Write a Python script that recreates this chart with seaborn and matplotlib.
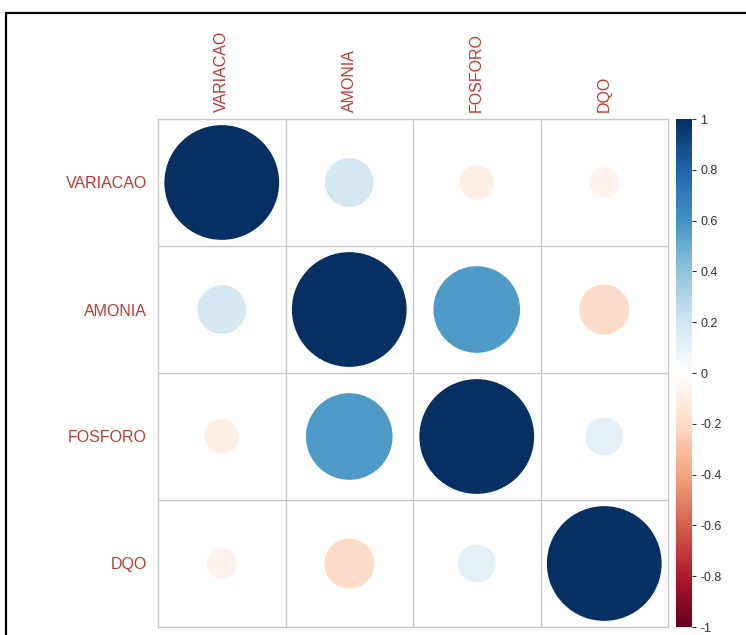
import numpy as np
import pandas as pd
import matplotlib
matplotlib.use("Agg")
import matplotlib.pyplot as plt
from matplotlib.colors import LinearSegmentedColormap, Normalize
from matplotlib.lines import Line2D
import seaborn as sns

variables = ["VARIACAO", "AMONIA", "FOSFORO", "DQO"]
row_variacao = [1.00, 0.18, -0.09, -0.07]
row_amonia = [0.18, 1.00, 0.57, -0.19]
row_fosforo = [-0.09, 0.57, 1.00, 0.11]
row_dqo = [-0.07, -0.19, 0.11, 1.00]
cbar_ticks = [-1, -0.8, -0.6, -0.4, -0.2, 0, 0.2, 0.4, 0.6, 0.8, 1]

corr = np.array([row_variacao, row_amonia, row_fosforo, row_dqo])
n = len(variables)

records = []
for i in range(n):
    for j in range(n):
        records.append({"row": i, "col": j, "r": corr[i, j]})
df = pd.DataFrame(records)

col2 = ["#67001F", "#B2182B", "#D6604D", "#F4A582", "#FDDBC7", "#FFFFFF",
        "#D1E5F0", "#92C5DE", "#4393C3", "#2166AC", "#053061"]
cmap = LinearSegmentedColormap.from_list("corrplot", col2, N=256)
norm = Normalize(-1, 1)

sns.set_theme(style="white")
plt.rcParams["font.family"] = ["Liberation Sans", "DejaVu Sans"]

W, H, DPI = 746, 635, 100
fig = plt.figure(figsize=(W / DPI, H / DPI), dpi=DPI)
fig.patch.set_facecolor("white")

ax_l, ax_r, ax_t, ax_b = 158, 668, 119, 627
ax = fig.add_axes([ax_l / W, 1 - ax_b / H, (ax_r - ax_l) / W, (ax_b - ax_t) / H])
cax = fig.add_axes([676 / W, 1 - ax_b / H, 16 / W, (ax_b - ax_t) / H])

cell_px = (ax_r - ax_l) / n
diam_pt = 0.9 * cell_px * np.sqrt(np.abs(df["r"].values)) * 72.0 / DPI
sizes = diam_pt ** 2

sns.scatterplot(data=df, x="col", y="row", hue="r", palette=cmap, hue_norm=norm,
                s=sizes, linewidth=0, legend=False, ax=ax, zorder=3)

ax.set_xlim(-0.5, n - 0.5)
ax.set_ylim(n - 0.5, -0.5)
grid_col = "#C8C8C8"
for k in range(1, n):
    ax.axvline(k - 0.5, color=grid_col, lw=1.0, zorder=1)
    ax.axhline(k - 0.5, color=grid_col, lw=1.0, zorder=1)
for s in ax.spines.values():
    s.set_visible(True)
    s.set_color(grid_col)
    s.set_linewidth(1.0)

lab_col = "#C23A33"
ax.set_xticks(range(n))
ax.set_xticklabels(variables, rotation=90, color=lab_col, fontsize=11.5)
ax.set_yticks(range(n))
ax.set_yticklabels(variables, color=lab_col, fontsize=11.5)
ax.xaxis.tick_top()
ax.tick_params(axis="x", length=0, pad=5, top=True, bottom=False,
               labeltop=True, labelbottom=False)
ax.tick_params(axis="y", length=0, pad=8)
ax.set_xlabel("")
ax.set_ylabel("")

sm = plt.cm.ScalarMappable(norm=norm, cmap=cmap)
cb = fig.colorbar(sm, cax=cax, ticks=cbar_ticks)
cb.outline.set_visible(False)
cb.ax.set_yticklabels([("%g" % t) for t in cbar_ticks])
cb.ax.tick_params(length=3, width=0.8, color="#333333", labelsize=9,
                  labelcolor="#333333", pad=3)

fig.add_artist(Line2D([6 / W, 1.0], [1 - 13 / H, 1 - 13 / H],
                      transform=fig.transFigure, color="black", lw=1.6))
fig.add_artist(Line2D([6 / W, 6 / W], [0.0, 1 - 13 / H],
                      transform=fig.transFigure, color="black", lw=1.6))

fig.savefig("out.png", dpi=DPI, facecolor="white")
